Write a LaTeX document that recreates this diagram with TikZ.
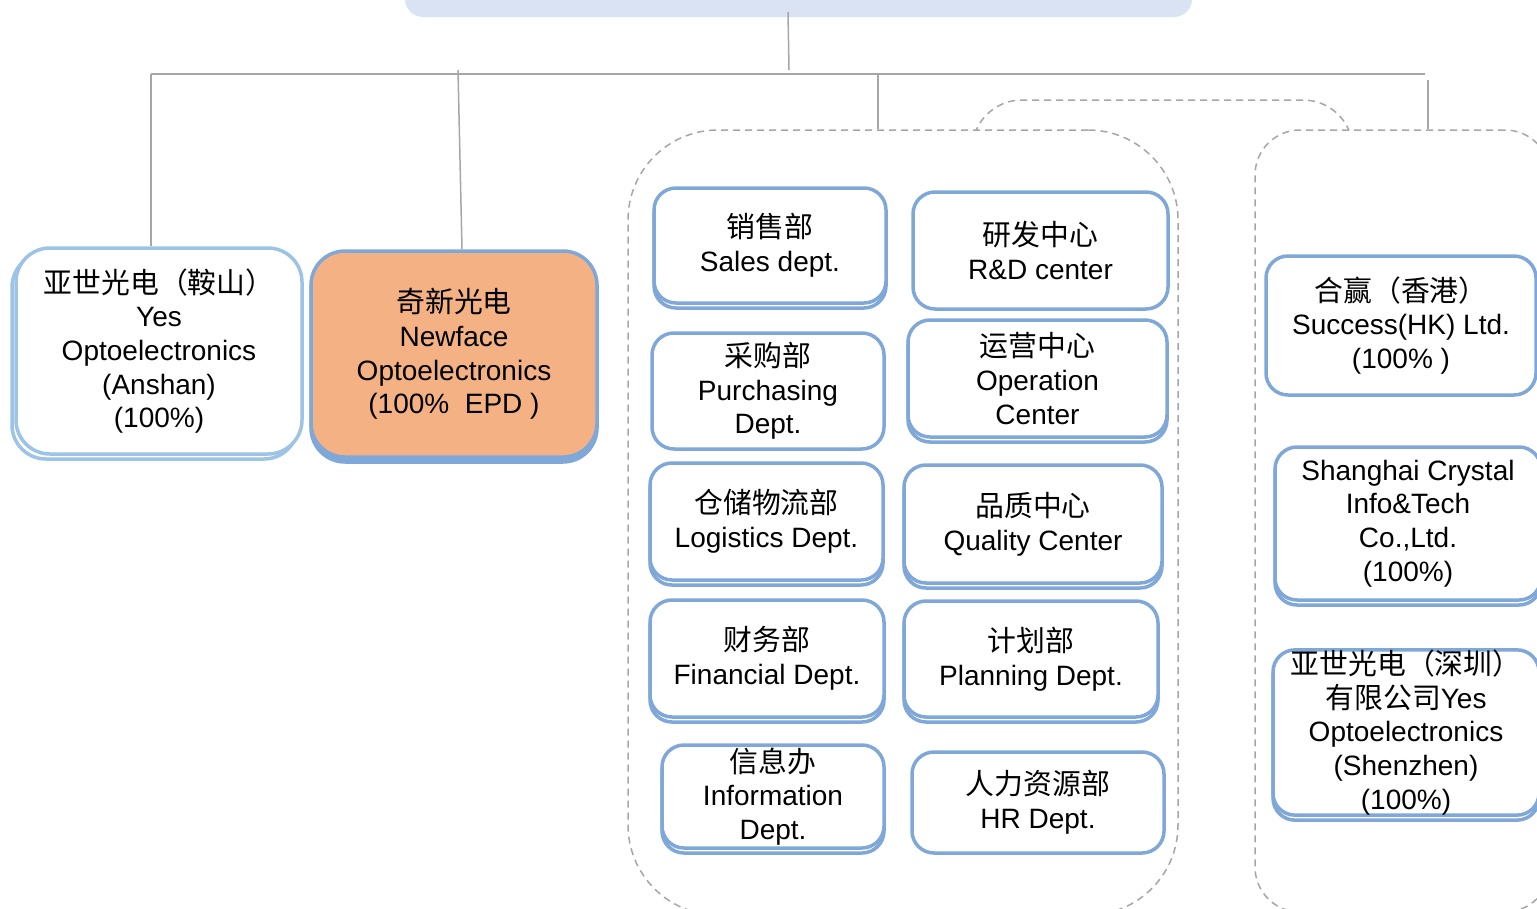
\documentclass[tikz,border=0pt]{standalone}
\usepackage{fontspec}
\setmainfont{Liberation Sans}
\newfontfamily\cjk[Scale=1.03]{Noto Sans CJK SC}
\usetikzlibrary{shadows}
\definecolor{bord}{HTML}{7FA8D9}
\definecolor{bordl}{HTML}{9DC3E6}
\definecolor{linkc}{HTML}{A6A6A6}
\definecolor{topbarc}{HTML}{DAE3F3}
\definecolor{orangef}{HTML}{F4B183}
\newcommand\boxfont{\fontsize{28}{33.7}\selectfont}
\begin{document}
\begin{tikzpicture}[x=1pt,y=-1pt,
  box/.style={draw=bord, line width=3.5pt, fill=white, rounded corners=22pt, align=center, font=\boxfont, inner sep=0pt,
    execute at begin node={\rule{0pt}{30.5pt}}},
  shd/.style={copy shadow={shadow xshift=0pt, shadow yshift=-5pt, draw=bord, fill=white, line width=3.5pt}},
  cont/.style={draw=linkc, line width=1.5pt, dash pattern=on 7pt off 5pt, fill=white},
  link/.style={draw=linkc, line width=1.5pt}]
\useasboundingbox (0,0) rectangle (1537,908);
\clip (0,0) rectangle (1537,908);

% top bar
\node[fill=topbarc, rounded corners=18pt, minimum width=787pt, minimum height=57pt, inner sep=0pt] (topbar) at (798.5,-11.5) {};

% dashed groups
\node[cont, minimum width=381pt, minimum height=850pt, rounded corners=50pt, inner sep=0pt] (grp2) at (1162.5,525) {};
\node[cont, minimum width=550pt, minimum height=785pt, rounded corners=90pt, inner sep=0pt] (grp1) at (903,522.5) {};
\node[cont, minimum width=295pt, minimum height=782pt, rounded corners=45pt, inner sep=0pt] (grp3) at (1402.5,521) {};

% left companies
\node[box, draw=bordl, rounded corners=34pt, minimum width=286pt, minimum height=206pt,
  copy shadow={shadow xshift=-4pt, shadow yshift=-5pt, draw=bordl, fill=white, line width=3.5pt}] (yes) at (159,351)
  {{\cjk 亚世光电（鞍山）}\\Yes\\Optoelectronics\\(Anshan)\\(100\%)};
\node[box, fill=orangef, rounded corners=34pt, minimum width=286pt, minimum height=206pt,
  copy shadow={shadow xshift=0pt, shadow yshift=-5pt, draw=bord, fill=bord, line width=3.5pt}] (new) at (454,354)
  {{\cjk 奇新光电}\\Newface\\Optoelectronics\\(100\%\ \ EPD\ )};

% departments
\node[box, shd, minimum width=232pt, minimum height=115pt] (sales) at (770,245.5) {{\cjk 销售部}\\Sales dept.};
\node[box, minimum width=255pt, minimum height=117pt] (rd) at (1040.5,250.5) {{\cjk 研发中心}\\R\&D center};
\node[box, minimum width=232pt, minimum height=116pt] (purch) at (768,391) {{\cjk 采购部}\\Purchasing\\Dept.};
\node[box, shd, minimum width=259pt, minimum height=117pt] (oper) at (1037.5,378.5) {{\cjk 运营中心}\\Operation\\Center};
\node[box, shd, minimum width=233pt, minimum height=117pt] (logi) at (766.5,521.5) {{\cjk 仓储物流部}\\Logistics Dept.};
\node[box, shd, minimum width=258pt, minimum height=118pt] (qual) at (1033,524) {{\cjk 品质中心}\\Quality Center};
\node[box, shd, minimum width=234pt, minimum height=117pt] (fin) at (767,658.5) {{\cjk 财务部}\\Financial Dept.};
\node[box, shd, minimum width=254pt, minimum height=116pt] (plan) at (1031,659) {{\cjk 计划部}\\Planning Dept.};
\node[box, shd, minimum width=222pt, minimum height=103pt] (info) at (773,796.5) {{\cjk 信息办}\\Information\\Dept.};
\node[box, minimum width=252pt, minimum height=101pt] (hr) at (1038,802.5) {{\cjk 人力资源部}\\HR Dept.};

% right companies
\node[box, minimum width=270pt, minimum height=139pt] (hk) at (1401,325.5) {{\cjk 合赢（香港）}\\Success(HK) Ltd.\\(100\%\ )};
\node[box, shd, minimum width=266pt, minimum height=153pt] (sh) at (1408,523.5) {Shanghai Crystal\\Info\&Tech\\Co.,Ltd.\\(100\%)};
\node[box, shd, minimum width=266pt, minimum height=155pt] (sz) at (1406,732.5) {{\cjk 亚世光电（深圳）}\\{\cjk 有限公司}Yes\\Optoelectronics\\(Shenzhen)\\(100\%)};

% connectors
\coordinate (c0) at (789,70);
\draw[link] ([xshift=-10.5pt,yshift=5pt]topbar.south) -- (c0);
\coordinate (b1) at (151,74);
\coordinate (b2) at (1425,74);
\draw[link] (b1) -- (b2);
\draw[link] (b1) -- (b1 |- yes.north);
\coordinate (c2) at (458,70);
\draw[link] (c2) -- ([xshift=8pt]new.north);
\coordinate (c3) at (878,74);
\draw[link] (c3) -- (c3 |- grp1.north);
\coordinate (c4) at (1428,80);
\draw[link] (c4) -- (c4 |- grp3.north);
\end{tikzpicture}
\end{document}
